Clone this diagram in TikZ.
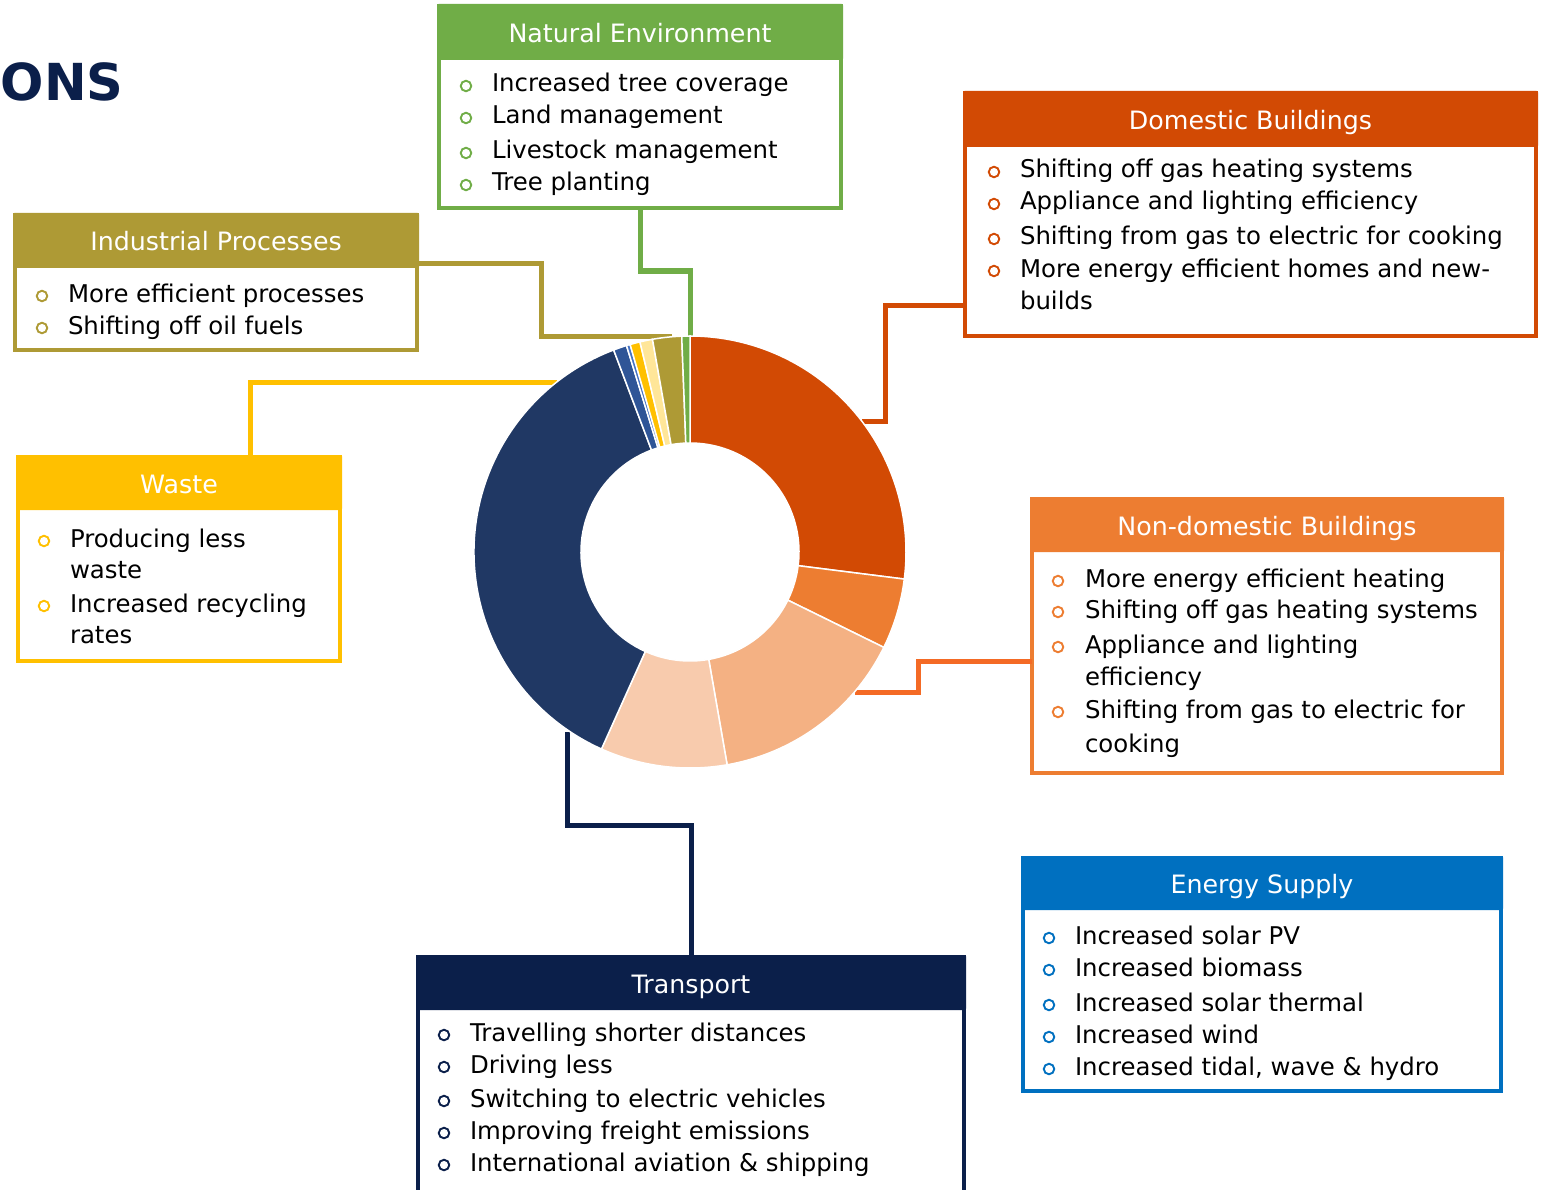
\documentclass[tikz,border=0pt]{standalone}
\usepackage{fontspec}
\setmainfont{DejaVu Sans}
\definecolor{cNat}{HTML}{70AD47}
\definecolor{cInd}{HTML}{AE9A35}
\definecolor{cWas}{HTML}{FFC000}
\definecolor{cDom}{HTML}{D24A04}
\definecolor{cNdb}{HTML}{ED7D31}
\definecolor{cNdbL}{HTML}{F46A25}
\definecolor{cTrn}{HTML}{0B1F4A}
\definecolor{cEns}{HTML}{0070C0}
\definecolor{cLor}{HTML}{F4B183}
\definecolor{cPch}{HTML}{F8CBAD}
\definecolor{cNavy}{HTML}{203864}
\definecolor{cBlu}{HTML}{2F5597}
\definecolor{cBlu2}{HTML}{4472C4}
\definecolor{cLyel}{HTML}{FFE699}
\newcommand\itemfont{\fontsize{24.4}{29}\selectfont}
\newcommand\headfont{\fontsize{25.3}{30}\selectfont}
\tikzset{
  conn/.style={line width=5pt},
  bul/.style={circle, draw=#1, line width=1.9pt, minimum size=10.5pt, inner sep=0pt, outer sep=0pt},
  itemtext/.style={font=\itemfont, text=black, inner sep=0pt, outer sep=0pt},
  headtext/.style={font=\headfont, text=white, inner sep=0pt, outer sep=0pt},
}
\newcommand\catbox[8]{%
  \node[draw=#2, line width=4pt, fill=white, minimum width={#5-#3-4}, minimum height={#6-#4-4}, inner sep=0pt, outer sep=0pt] (#1) at ({(#3+#5)/2},{(#4+#6)/2}) {};
  \node[fill=#2, minimum width={#5-#3}, minimum height={#7-#4}, inner sep=0pt, outer sep=0pt, anchor=north west, rounded corners=1.5pt] (#1h) at (#3,#4) {};
  \node[headtext, anchor=base] (#1t) at ({(#3+#5)/2},{(#4+#7)/2+10.5}) {#8};
}
\newcommand\itm[6]{%
  \node[bul=#2] (#1b) at (#3,#5-6) {};
  \node[itemtext, anchor=base west] (#1) at (#4,#5) {#6};
}
\newcommand\contline[4]{\node[itemtext, anchor=base west] (#1) at (#2,#3) {#4};}
\newcommand\dslice[3]{\path[fill=#1, draw=white, line width=1.5pt] (#2:216) arc[start angle=#2, end angle=#3, radius=216] -- (#3:109) arc[start angle=#3, end angle=#2, radius=109] -- cycle;}
\begin{document}
\begin{tikzpicture}[x=1pt, y=-1pt]
\useasboundingbox (0,0) rectangle (1549,1190);
\fill[white] (0,0) rectangle (1549,1190);

% title fragment
\node[font=\fontsize{51}{58}\selectfont\bfseries, text=cTrn, anchor=base west, inner sep=0pt] (title) at (0.5,101) {ONS};

% Natural Environment
\catbox{nat}{cNat}{437}{4}{843}{210}{60}{Natural Environment}
\itm{nat1}{cNat}{466}{492}{92}{Increased tree coverage}
\itm{nat2}{cNat}{466}{492}{124}{Land management}
\itm{nat3}{cNat}{466}{492}{159}{Livestock management}
\itm{nat4}{cNat}{466}{492}{191}{Tree planting}

% Industrial Processes
\catbox{ind}{cInd}{13}{213}{419}{352}{268}{Industrial Processes}
\itm{ind1}{cInd}{42}{68}{302}{More efficient processes}
\itm{ind2}{cInd}{42}{68}{334}{Shifting off oil fuels}

% Waste
\catbox{was}{cWas}{16}{455}{342}{663}{510}{Waste}
\itm{was1}{cWas}{44}{70}{547}{Producing less}
\contline{was1c}{70}{578}{waste}
\itm{was2}{cWas}{44}{70}{612}{Increased recycling}
\contline{was2c}{70}{643}{rates}

% Domestic Buildings
\catbox{dom}{cDom}{963}{91}{1538}{338}{147}{Domestic Buildings}
\itm{dom1}{cDom}{994}{1020}{178}{Shifting off gas heating systems}
\itm{dom2}{cDom}{994}{1020}{210}{Appliance and lighting efficiency}
\itm{dom3}{cDom}{994}{1020}{245}{Shifting from gas to electric for cooking}
\itm{dom4}{cDom}{994}{1020}{277}{More energy efficient homes and new-}
\contline{dom4c}{1020}{309}{builds}

% Non-domestic Buildings
\catbox{ndb}{cNdb}{1030}{497}{1504}{775}{552}{Non-domestic Buildings}
\itm{ndb1}{cNdb}{1058}{1085}{587}{More energy efficient heating}
\itm{ndb2}{cNdb}{1058}{1085}{618}{Shifting off gas heating systems}
\itm{ndb3}{cNdb}{1058}{1085}{653}{Appliance and lighting}
\contline{ndb3c}{1085}{685}{efficiency}
\itm{ndb4}{cNdb}{1058}{1085}{718}{Shifting from gas to electric for}
\contline{ndb4c}{1085}{752}{cooking}

% Transport
\catbox{trn}{cTrn}{416}{955}{966}{1200}{1010}{Transport}
\itm{trn1}{cTrn}{444}{470}{1041}{Travelling shorter distances}
\itm{trn2}{cTrn}{444}{470}{1073}{Driving less}
\itm{trn3}{cTrn}{444}{470}{1107}{Switching to electric vehicles}
\itm{trn4}{cTrn}{444}{470}{1139}{Improving freight emissions}
\itm{trn5}{cTrn}{444}{470}{1171}{International aviation \& shipping}

% Energy Supply
\catbox{ens}{cEns}{1021}{856}{1503}{1093}{910}{Energy Supply}
\itm{ens1}{cEns}{1049}{1075}{944}{Increased solar PV}
\itm{ens2}{cEns}{1049}{1075}{976}{Increased biomass}
\itm{ens3}{cEns}{1049}{1075}{1011}{Increased solar thermal}
\itm{ens4}{cEns}{1049}{1075}{1043}{Increased wind}
\itm{ens5}{cEns}{1049}{1075}{1075}{Increased tidal, wave \& hydro}

% connector end points on the ring
\coordinate (natE) at (690.5,336);
\coordinate (indE) at (672,336);
\coordinate (wasE) at (557,382);
\coordinate (domE) at (862,421);
\coordinate (ndbE) at (855,692);
\coordinate (trnE) at (567,732);

% connectors
\draw[conn, draw=cNat] (nat.south) |- (690.5,271) -- (natE);
\draw[conn, draw=cInd] (ind.east |- 0,264) -| (541,336) -- (indE);
\draw[conn, draw=cWas] (was.north -| 250,0) |- (wasE);
\draw[conn, draw=cDom] (dom.west |- 0,305) -| (885,421) -- (domE);
\draw[conn, draw=cNdbL] (ndb.west |- 0,661) -| (918,692) -- (ndbE);
\draw[conn, draw=cTrn] (trn.north -| 691,0) |- (567,825) -- (trnE);

% ring chart
\coordinate (ctr) at (690,552);
\begin{scope}[shift={(ctr)}, y=1pt]
\dslice{cDom}{90}{-7.2}
\dslice{cNdb}{-7.2}{-26.2}
\dslice{cLor}{-26.2}{-80.1}
\dslice{cPch}{-80.1}{-114.2}
\dslice{cNavy}{-114.2}{-249.3}
\dslice{cBlu}{110.7}{107.1}
\dslice{cBlu2}{107.1}{106.1}
\dslice{cWas}{106.1}{103.4}
\dslice{cLyel}{103.4}{100}
\dslice{cInd}{100}{92.2}
\dslice{cNat}{92.2}{90}
\end{scope}
\end{tikzpicture}
\end{document}
